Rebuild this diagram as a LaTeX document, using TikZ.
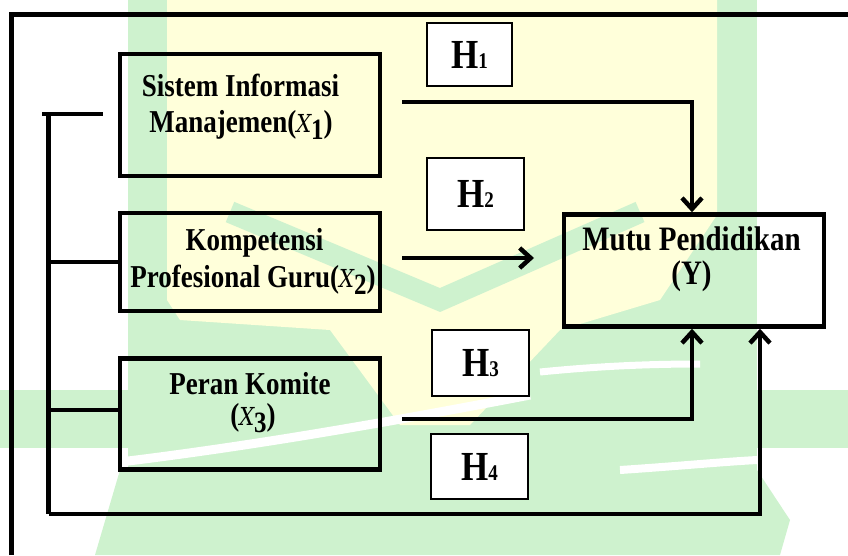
\documentclass[tikz,border=0pt]{standalone}
\usepackage{fontspec}
\usepackage{graphicx}
\setmainfont{Liberation Serif}
\newfontfamily\xfont{DejaVu Serif}
\usetikzlibrary{arrows.meta}
\definecolor{wmgreen}{RGB}{206,242,206}
\definecolor{wmyellow}{RGB}{255,255,218}
\newcommand{\tall}[1]{\scalebox{1}[1.18]{#1}}
\newcommand{\Xv}[1]{{\xfont\fontseries{m}\itshape\fontsize{21}{21}\selectfont X}\raisebox{-6pt}{\fontsize{25}{25}\selectfont #1}}
\newcommand{\Hv}[1]{\tall{H{\fontsize{19}{19}\selectfont #1}}}
\tikzset{
  varbox/.style={draw, line width=4.5pt, inner sep=0pt},
  vartext/.style={font=\fontsize{27}{27}\selectfont\bfseries, anchor=base, inner sep=0pt},
  ytext/.style={font=\fontsize{29}{29}\selectfont\bfseries, anchor=base, inner sep=0pt},
  hbox/.style={draw, line width=1.2pt, fill=white, inner sep=0pt, font=\fontsize{35}{35}\selectfont\bfseries},
  conn/.style={line width=4.5pt},
  arr/.style={conn, -{Straight Barb[length=11pt,width=20pt]}},
  frame/.style={line width=5pt},
}
\begin{document}
\begin{tikzpicture}[x=1pt,y=-1pt]
\useasboundingbox (0,0) rectangle (848,555);
% watermark
\fill[wmgreen] (128,0) rectangle (757,470);
\fill[wmgreen] (0,390) rectangle (848,448);
\fill[wmgreen] (120,470) -- (757,470) -- (790,520) -- (780,555) -- (95,555) -- cycle;
\fill[wmyellow] (167,0) -- (717,0) -- (717,215) -- (660,300) -- (560,330) -- (470,425) -- (400,425) -- (330,330) -- (180,320) -- (167,300) -- cycle;
\draw[wmgreen, line width=22pt] (230,212) -- (440,300) -- (640,212);
\draw[white, line width=9pt] (120,462) .. controls (260,445) and (400,420) .. (530,395);
\draw[white, line width=7pt] (540,372) .. controls (600,366) and (650,364) .. (700,364);
\draw[white, line width=8pt] (620,470) .. controls (680,466) and (720,462) .. (757,460);
% frame
\draw[frame] (11,555) -- (11,14) -- (848,14);
% variable boxes
\node[varbox, minimum width=260pt, minimum height=122pt] (x1) at (250,115) {};
\node[varbox, minimum width=260pt, minimum height=98pt] (x2) at (250,262) {};
\node[varbox, minimum width=260pt, minimum height=111pt] (x3) at (250,414) {};
\node[varbox, minimum width=260pt, minimum height=112pt] (y) at (694,270.5) {};
\node[vartext] (x1a) at (240.5,96) {\tall{Sistem Informasi}};
\node[vartext] (x1b) at (241,132) {\tall{Manajemen(\Xv{1})}};
\node[vartext] (x2a) at (254.5,250) {\tall{Kompetensi}};
\node[vartext] (x2b) at (253,287) {\tall{Profesional Guru(\Xv{2})}};
\node[vartext] (x3a) at (250,394) {\tall{Peran Komite}};
\node[vartext] (x3b) at (253,425) {\tall{(\Xv{3})}};
\node[ytext] (ya) at (691.5,250) {\tall{Mutu Pendidikan}};
\node[ytext] (yb) at (691.5,284) {\tall{(Y)}};
% hypothesis boxes
\node[hbox, minimum width=85pt, minimum height=63pt] (h1) at (469.5,54.5) {\Hv{1}};
\node[hbox, minimum width=97pt, minimum height=72pt] (h2) at (475.5,194) {\Hv{2}};
\node[hbox, minimum width=97pt, minimum height=66pt] (h3) at (480.5,363) {\Hv{3}};
\node[hbox, minimum width=97pt, minimum height=65pt] (h4) at (479.5,466.5) {\Hv{4}};
% connector end points
\coordinate (s1) at (402,102);
\coordinate (s2) at (402,258);
\coordinate (e2) at (534,258);
\coordinate (s3) at (402,419);
\coordinate (tl) at (42,114);
\coordinate (tr) at (103,114);
\coordinate (bt) at (48.5,114);
\coordinate (bb) at (48.5,514);
\coordinate (b3) at (48.5,410);
\coordinate (t1) at (692,0);
\coordinate (t4) at (760,0);
% connectors
\draw[arr] (s1) -| (t1 |- y.north);
\draw[arr] (s2) -- (e2);
\draw[arr] (s3) -| (t1 |- y.south);
\draw[conn] (tl) -- (tr);
\draw[conn] (bt) -- (bb);
\draw[arr] (bb) -| (t4 |- y.south);
\draw[conn] (bt |- x2.west) -- (x2.west);
\draw[conn] (b3) -- (x3.west |- b3);
\end{tikzpicture}
\end{document}
